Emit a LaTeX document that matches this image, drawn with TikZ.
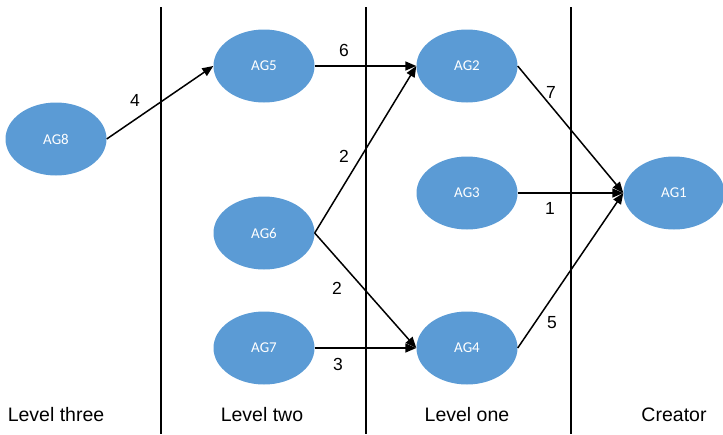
\documentclass[tikz,border=0pt]{standalone}
\usepackage{fontspec}
\setmainfont{Liberation Sans}
\newfontfamily\agfont{Carlito}
\usetikzlibrary{arrows.meta,shapes.geometric}
\definecolor{agblue}{HTML}{5B9BD5}
\begin{document}
\begin{tikzpicture}[x=1pt,y=-1pt,
  agent/.style={ellipse, fill=agblue, minimum width=101pt, minimum height=73pt,
    inner sep=0pt, text=white, font=\agfont\fontsize{15}{17}\selectfont},
  link/.style={line width=1.5pt, -{Triangle[length=11pt,width=9pt]}},
  divider/.style={line width=1.2pt},
  weight/.style={font=\fontsize{17.5}{19}\selectfont},
  levelname/.style={font=\fontsize{19.5}{21}\selectfont}]
\useasboundingbox (0,0) rectangle (723,434);

% column dividers
\coordinate (d1t) at (161,7);   \coordinate (d1b) at (161,434);
\coordinate (d2t) at (366,7);   \coordinate (d2b) at (366,434);
\coordinate (d3t) at (571,7);   \coordinate (d3b) at (571,434);
\draw[divider] (d1t) -- (d1b);
\draw[divider] (d2t) -- (d2b);
\draw[divider] (d3t) -- (d3b);

% agents
\node[agent] (ag8) at (56,139) {AG8};
\node[agent] (ag5) at (264,66) {AG5};
\node[agent] (ag6) at (264,233) {AG6};
\node[agent] (ag7) at (264,348) {AG7};
\node[agent] (ag2) at (467,66) {AG2};
\node[agent] (ag3) at (467,193) {AG3};
\node[agent] (ag4) at (467,348) {AG4};
\node[agent] (ag1) at (674,193) {AG1};

% connections
\draw[link] (ag8.east) -- (ag5.west);
\draw[link] (ag5.east) -- (ag2.west);
\draw[link] (ag6.east) -- (ag2.west);
\draw[link] (ag6.east) -- (ag4.west);
\draw[link] (ag7.east) -- (ag4.west);
\draw[link] (ag2.east) -- (ag1.west);
\draw[link] (ag3.east) -- (ag1.west);
\draw[link] (ag4.east) -- (ag1.west);

% weights
\node[weight] (w4) at (135,100) {4};
\node[weight] (w6) at (344,50) {6};
\node[weight] (w2a) at (344,156) {2};
\node[weight] (w2b) at (337,288) {2};
\node[weight] (w3) at (338,364) {3};
\node[weight] (w7) at (551,92) {7};
\node[weight] (w1) at (550,208) {1};
\node[weight] (w5) at (552,323) {5};

% column titles
\node[levelname] (l3) at (56,415) {Level three};
\node[levelname] (l2) at (262,415) {Level two};
\node[levelname] (l1) at (467,415) {Level one};
\node[levelname] (lc) at (674,415) {Creator};
\end{tikzpicture}
\end{document}
